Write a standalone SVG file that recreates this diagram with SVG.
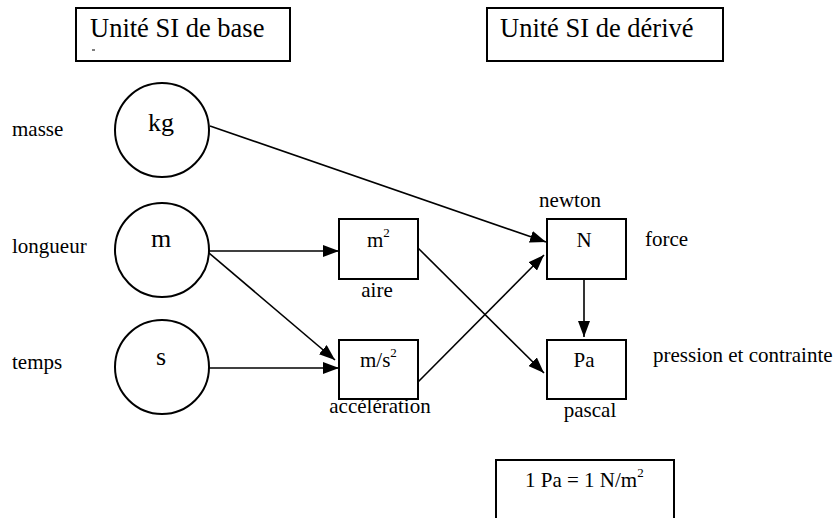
<svg xmlns="http://www.w3.org/2000/svg" width="839" height="518" viewBox="0 0 839 518" font-family="'Liberation Serif', 'Times New Roman', Times, 'DejaVu Serif', serif">
<style>
  text { font-family: 'Liberation Serif', 'Times New Roman', Times, 'DejaVu Serif', serif; fill: #000; }
  .lbl { font-size: 21px; }
  .ttl { font-size: 26.5px; }
  .unit { font-size: 26px; text-anchor: middle; }
  .mid { text-anchor: middle; }
  .sup { font-size: 13px; }
  .box { fill: #fff; stroke: #000; stroke-width: 2; }
  .circ { fill: #fff; stroke: #000; stroke-width: 2; }
  .conn line { stroke: #000; stroke-width: 1.6; fill: none; }
</style>
<defs>
  <marker id="arr" viewBox="0 0 16 12" refX="16" refY="6" markerWidth="16" markerHeight="12" markerUnits="userSpaceOnUse" orient="auto">
    <path d="M0,0 L16,6 L0,12 Z" fill="#000"/>
  </marker>
</defs>
<rect width="839" height="518" fill="#fff"/>

<g id="title-base">
  <rect class="box" x="76" y="8" width="214" height="53"/>
  <text class="ttl" x="90" y="37">Unité SI de base</text>
  <line x1="92" y1="50" x2="95" y2="50" stroke="#000" stroke-width="1"/>
</g>
<g id="title-derive">
  <rect class="box" x="487" y="8" width="236" height="53"/>
  <text class="ttl" x="500" y="37">Unité SI de dérivé</text>
</g>

<g id="kg">
  <text class="lbl" x="12" y="136">masse</text>
  <circle class="circ" cx="162" cy="130" r="47"/>
  <text class="unit" x="161" y="131">kg</text>
</g>
<g id="m">
  <text class="lbl" x="12" y="253">longueur</text>
  <circle class="circ" cx="162" cy="250" r="47"/>
  <text class="unit" x="161" y="247">m</text>
</g>
<g id="s">
  <text class="lbl" x="12" y="369">temps</text>
  <circle class="circ" cx="162" cy="367" r="47"/>
  <text class="unit" x="161" y="365">s</text>
</g>

<g id="m2">
  <rect class="box" x="339" y="219" width="79" height="60"/>
  <text class="lbl" x="367" y="247">m<tspan class="sup" dy="-10">2</tspan></text>
  <text class="lbl mid" x="377" y="297">aire</text>
</g>
<g id="ms2">
  <rect class="box" x="339" y="340" width="79" height="59"/>
  <text class="lbl" x="360" y="367">m/s<tspan class="sup" dy="-10">2</tspan></text>
  <text class="lbl mid" x="380" y="413">accélération</text>
</g>
<g id="N">
  <rect class="box" x="547" y="219" width="79" height="60"/>
  <text class="lbl mid" x="584" y="247">N</text>
  <text class="lbl mid" x="570" y="207">newton</text>
  <text class="lbl" x="645" y="246">force</text>
</g>
<g id="Pa">
  <rect class="box" x="547" y="340" width="79" height="59"/>
  <text class="lbl mid" x="584" y="367">Pa</text>
  <text class="lbl mid" x="590" y="417">pascal</text>
  <text class="lbl" x="653" y="362">pression et contrainte</text>
</g>
<g id="formula">
  <rect class="box" x="496" y="460" width="178" height="70"/>
  <text class="lbl" x="525" y="487">1 Pa = 1 N/m<tspan class="sup" dy="-10">2</tspan></text>
</g>

<g class="conn" id="connectors">
  <line x1="210" y1="126" x2="546" y2="242" marker-end="url(#arr)"/>
  <line x1="209" y1="251" x2="339" y2="251" marker-end="url(#arr)"/>
  <line x1="209" y1="253" x2="335" y2="360" marker-end="url(#arr)"/>
  <line x1="209" y1="368" x2="339" y2="368" marker-end="url(#arr)"/>
  <line x1="418" y1="248" x2="544" y2="373" marker-end="url(#arr)"/>
  <line x1="418" y1="382" x2="544" y2="255" marker-end="url(#arr)"/>
  <line x1="584" y1="279" x2="584" y2="337" marker-end="url(#arr)"/>
</g>
</svg>
